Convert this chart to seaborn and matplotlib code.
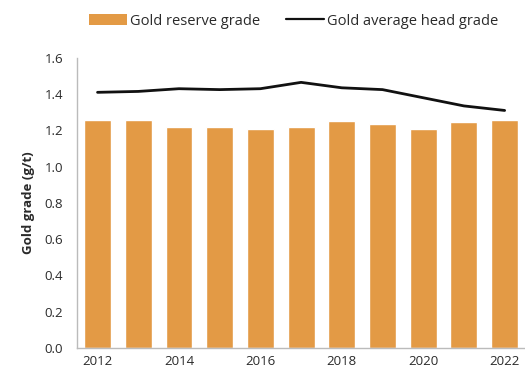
import matplotlib
matplotlib.use("Agg")
import matplotlib.pyplot as plt
import seaborn as sns
import pandas as pd
from matplotlib.patches import Patch
from matplotlib.lines import Line2D

years = ["2012", "2013", "2014", "2015", "2016", "2017", "2018", "2019", "2020", "2021", "2022"]
reserve_grade = [1.26, 1.255, 1.22, 1.22, 1.21, 1.22, 1.25, 1.235, 1.21, 1.245, 1.26]
head_grade = [1.41, 1.415, 1.43, 1.425, 1.43, 1.465, 1.435, 1.425, 1.38, 1.335, 1.31]
y_ticks = [0.0, 0.2, 0.4, 0.6, 0.8, 1.0, 1.2, 1.4, 1.6]

sns.set_theme(style="white")
plt.rcParams["font.family"] = ["Open Sans", "DejaVu Sans"]

df = pd.DataFrame({"year": years, "reserve": reserve_grade, "head": head_grade})
df["pos"] = range(len(df))

fig = plt.figure(figsize=(5.25, 3.76), dpi=100)
ax = fig.add_axes([0.147, 0.075, 0.853, 0.771])

bar_color = "#E39A45"
text_color = "#2A2A2A"
sns.barplot(data=df, x="year", y="reserve", color=bar_color, width=0.66,
            saturation=1, ax=ax)
sns.lineplot(data=df, x="pos", y="head", color="#111111", linewidth=2.0, ax=ax)

ax.set_xlim(-0.5, len(years) - 0.5)
ax.set_ylim(0, 1.6)
ax.set_yticks(y_ticks)
ax.set_yticklabels([f"{v:.1f}" for v in y_ticks], fontsize=9.5, color=text_color)
ax.set_xticks(range(0, len(years), 2))
ax.set_xticklabels(years[::2], fontsize=9.5, color=text_color)
ax.tick_params(axis="y", length=0, pad=10)
ax.tick_params(axis="x", length=0, pad=5)
ax.set_xlabel("")
ax.set_ylabel("Gold grade (g/t)", fontsize=9.5, fontweight="bold", color=text_color, labelpad=7)

for side in ["top", "right"]:
    ax.spines[side].set_visible(False)
for side in ["left", "bottom"]:
    ax.spines[side].set_color("#BBBBBB")
    ax.spines[side].set_linewidth(1.0)

handles = [Patch(facecolor=bar_color, edgecolor="none", label="Gold reserve grade"),
           Line2D([0], [0], color="#111111", linewidth=1.6, label="Gold average head grade")]
fig.legend(handles=handles, loc="center", bbox_to_anchor=(0.559, 0.944), ncol=2,
           frameon=False, fontsize=10.5, handlelength=2.6, handleheight=0.7,
           handletextpad=0.2, columnspacing=1.8, labelcolor=text_color)

fig.savefig("out.png", dpi=100)
